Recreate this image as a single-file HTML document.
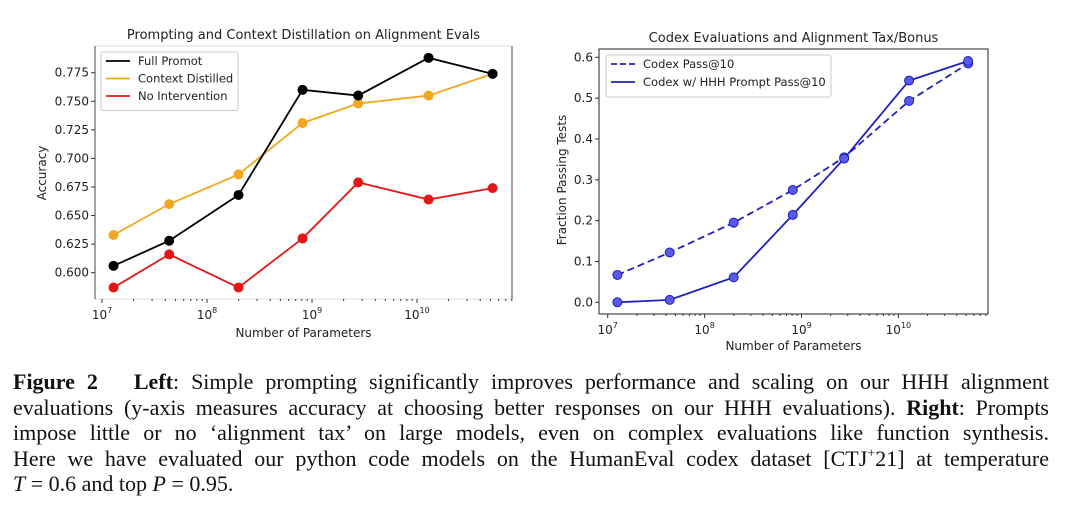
<!DOCTYPE html>
<html><head><meta charset="utf-8">
<style>
html,body{margin:0;padding:0;background:#fff;width:1080px;height:507px;overflow:hidden;}
svg text{font-family:"DejaVu Sans","Liberation Sans",sans-serif;fill:#222;}
#cap{position:absolute;left:13px;top:369px;width:1036px;font-family:"Liberation Serif",serif;font-size:22px;color:#111;}
#cap div{height:25.5px;line-height:25.5px;text-align:justify;text-align-last:justify;white-space:nowrap;}
#cap div.last{text-align-last:left;}
</style></head>
<body>
<svg id="chart" width="1080" height="360" style="position:absolute;left:0;top:0"></svg>
<div id="cap">
<div style="white-space:normal"><b>Figure 2</b>&nbsp;&nbsp; <b>Left</b>: Simple prompting significantly improves performance and scaling on our HHH alignment</div>
<div style="white-space:normal">evaluations (y-axis measures accuracy at choosing better responses on our HHH evaluations). <b>Right</b>: Prompts</div>
<div style="white-space:normal">impose little or no ‘alignment tax’ on large models, even on complex evaluations like function synthesis.</div>
<div style="white-space:normal">Here we have evaluated our python code models on the HumanEval codex dataset [CTJ<sup style="font-size:14px;line-height:0">+</sup>21] at temperature</div>
<div class="last"><i>T</i> = 0.6 and top <i>P</i> = 0.95.</div>
</div>
<script>
// Left chart data
const leftLogX = [7.11, 7.64, 8.30, 8.91, 9.44, 10.11, 10.72];
const fullPrompt = [0.606, 0.628, 0.668, 0.760, 0.755, 0.788, 0.774];
const contextDistilled = [0.633, 0.660, 0.686, 0.731, 0.748, 0.755, 0.774];
const noIntervention = [0.587, 0.616, 0.587, 0.630, 0.679, 0.664, 0.674];
const leftYTicks = [0.600, 0.625, 0.650, 0.675, 0.700, 0.725, 0.750, 0.775];
// Right chart data
const rightLogX = [7.10, 7.64, 8.30, 8.91, 9.44, 10.11, 10.72];
const codexPass = [0.067, 0.122, 0.195, 0.275, 0.355, 0.493, 0.585];
const codexHHH = [0.0, 0.006, 0.061, 0.214, 0.352, 0.543, 0.591];
const rightYTicks = [0.0, 0.1, 0.2, 0.3, 0.4, 0.5, 0.6];
const xDecades = [7, 8, 9, 10];

const svg = document.getElementById('chart');
const NS = 'http://www.w3.org/2000/svg';
function mk(tag, attrs, parent) {
  const e = document.createElementNS(NS, tag);
  for (const k in attrs) e.setAttribute(k, attrs[k]);
  (parent || svg).appendChild(e);
  return e;
}

function drawAxes(cfg) {
  const g = mk('g', {});
  
  
  const frame = mk('rect', {x: cfg.L, y: cfg.T, width: cfg.R - cfg.L, height: cfg.B - cfg.T, fill: 'none', stroke: cfg.frameColor, 'stroke-width': 1}, g);
  
  
  xDecades.forEach(d => {
    const x = cfg.sx(d);
    mk('line', {x1: x, x2: x, y1: cfg.B, y2: cfg.B + 4, stroke: '#333'}, g);
    const t = mk('text', {x: x, y: cfg.B + 20, 'font-size': 12, 'text-anchor': 'middle'}, g);
    
    
    t.textContent = '10';
    const s = mk('tspan', {'font-size': 8, dy: -6}, t);
    s.textContent = String(d);
    for (let m = 2; m <= 9; m++) {
      const xm = cfg.sx(d + Math.log10(m));
      if (xm < cfg.R) mk('line', {x1: xm, x2: xm, y1: cfg.B, y2: cfg.B + 2, stroke: '#333'}, g);
    }
  });
  for (let m = 2; m <= 9; m++) {
    const xm = cfg.sx(11 + Math.log10(m));
    if (xm < cfg.R) mk('line', {x1: xm, x2: xm, y1: cfg.B, y2: cfg.B + 2, stroke: '#333'}, g);
  }
  cfg.yTicks.forEach(v => {
    const y = cfg.sy(v);
    mk('line', {x1: cfg.L - 4, x2: cfg.L, y1: y, y2: y, stroke: '#333'}, g);
    const t = mk('text', {x: cfg.L - 6, y: y + 4, 'font-size': 12, 'text-anchor': 'end'}, g);
    
    
    t.textContent = v.toFixed(cfg.dec);
  });
  const title = mk('text', {x: (cfg.L + cfg.R) / 2, y: cfg.titleY, 'font-size': 13, 'text-anchor': 'middle'}, g);
  
  
  title.textContent = cfg.title;
  const xl = mk('text', {x: (cfg.L + cfg.R) / 2, y: cfg.xlY, 'font-size': 12, 'text-anchor': 'middle'}, g);
  
  
  xl.textContent = 'Number of Parameters';
  const yl = mk('text', {x: 0, y: 0, 'font-size': 12, 'text-anchor': 'middle', transform: `translate(${cfg.ylX},${cfg.ylY}) rotate(-90)`}, g);
  
  
  yl.textContent = cfg.ylabel;
  return g;
}

function series(g, xs, ys, sx, sy, color, name, dash, mfill) {
  const pts = xs.map((x, i) => sx(x) + ',' + sy(ys[i])).join(' ');
  const pl = mk('polyline', {points: pts, fill: 'none', stroke: color, 'stroke-width': 1.8, 'stroke-dasharray': dash || 'none'}, g);
  
  
  xs.forEach((x, i) => {
    const c = mk('circle', {cx: sx(x), cy: sy(ys[i]), r: 4.5, fill: mfill || color, stroke: color, 'stroke-width': 1}, g);
    
    
  });
}

function legend(g, x, y, w, entries, rowH) {
  const lg = mk('g', {}, g);
  
  
  mk('rect', {x: x, y: y, width: w, height: entries.length * rowH + 6, fill: '#fff', stroke: '#ccc', rx: 2}, lg);
  entries.forEach((e, i) => {
    const yy = y + 9 + i * rowH;
    mk('line', {x1: x + 5, x2: x + 29, y1: yy, y2: yy, stroke: e.color, 'stroke-width': 1.8, 'stroke-dasharray': e.dash || 'none'}, lg);
    const t = mk('text', {x: x + 37, y: yy + 4, 'font-size': 11.5}, lg);
    
    
    t.textContent = e.label;
  });
}

{
  const L = 95, R = 512, T = 46, B = 299;
  const sx = v => 102 + (v - 7) * 105;
  const sy = v => 72.7 + (0.775 - v) / 0.025 * 28.57;
  const g = drawAxes({name: 'left-chart', L, R, T, B, sx, sy, yTicks: leftYTicks, dec: 3, frameColor: '#ddd',
    title: 'Prompting and Context Distillation on Alignment Evals', titleY: 39, xlY: 337, ylX: 46, ylY: 173, ylabel: 'Accuracy'});
  mk('line', {x1: L, x2: L, y1: T, y2: B, stroke: '#444'}, g);
  mk('line', {x1: R, x2: R, y1: T, y2: B, stroke: '#444'}, g);
  series(g, leftLogX, contextDistilled, sx, sy, '#f0a820', 'context-distilled');
  series(g, leftLogX, noIntervention, sx, sy, '#e01818', 'no-intervention');
  series(g, leftLogX, fullPrompt, sx, sy, '#000', 'full-prompt');
  legend(g, 101, 52, 137, [{label: 'Full Promot', color: '#000'}, {label: 'Context Distilled', color: '#f0a820'}, {label: 'No Intervention', color: '#e01818'}], 17.5);
}
{
  const L = 599, R = 988, T = 49, B = 314;
  const sx = v => 607.7 + (v - 7) * 96.9;
  const sy = v => 302.3 - v * 408.3;
  const g = drawAxes({name: 'right-chart', L, R, T, B, sx, sy, yTicks: rightYTicks, dec: 1, frameColor: '#222',
    title: 'Codex Evaluations and Alignment Tax/Bonus', titleY: 42, xlY: 350, ylX: 566, ylY: 180, ylabel: 'Fraction Passing Tests'});
  series(g, rightLogX, codexPass, sx, sy, '#2020c0', 'codex-pass10', '7,4', '#5a5ae8');
  series(g, rightLogX, codexHHH, sx, sy, '#2020c0', 'codex-hhh-pass10', null, '#5a5ae8');
  legend(g, 606, 55, 225, [{label: 'Codex Pass@10', color: '#2020c0', dash: '6,3'}, {label: 'Codex w/ HHH Prompt Pass@10', color: '#2020c0'}], 18);
}
</script>
</body></html>
